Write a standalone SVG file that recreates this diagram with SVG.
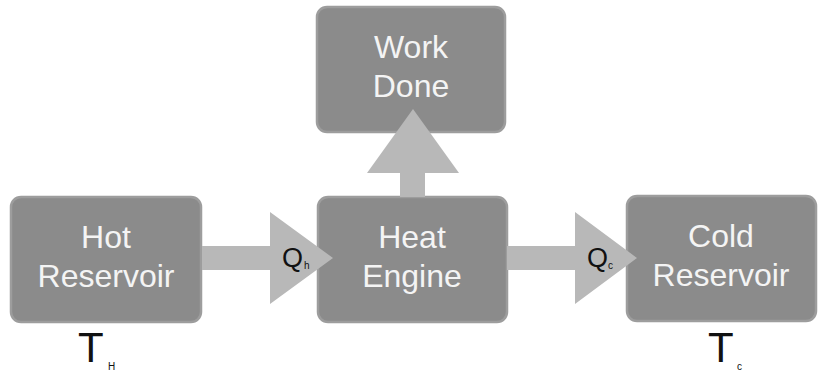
<svg xmlns="http://www.w3.org/2000/svg" width="818" height="371" viewBox="0 0 818 371">
<style>
.box{fill:#8b8b8b;stroke:#9d9d9d;stroke-width:2.5}
.lbl{font-family:"Liberation Sans",Arial,sans-serif;font-size:32px;fill:#f4f4f4;text-anchor:middle}
.arr{fill:#b8b8b8}
.q{font-family:"Liberation Sans",Arial,sans-serif;font-size:27px;fill:#111111}
.t{font-family:"Liberation Sans",Arial,sans-serif;font-size:42px;fill:#111111}
.sub{font-family:"Liberation Sans",Arial,sans-serif;font-size:10px;fill:#111111}
</style>
<rect width="818" height="371" fill="#ffffff"/>
<g id="hot-reservoir">
<rect class="box" x="11" y="197" width="190" height="125" rx="10"/>
<text class="lbl" x="106" y="248">Hot</text>
<text class="lbl" x="106" y="287">Reservoir</text>
</g>
<g id="heat-engine">
<rect class="box" x="318" y="197" width="189" height="125" rx="10"/>
<text class="lbl" x="412" y="248">Heat</text>
<text class="lbl" x="412" y="287">Engine</text>
</g>
<g id="cold-reservoir">
<rect class="box" x="627" y="196" width="189" height="125" rx="10"/>
<text class="lbl" x="721" y="247">Cold</text>
<text class="lbl" x="721" y="286">Reservoir</text>
</g>
<g id="work-done">
<rect class="box" x="317" y="7" width="188" height="125" rx="10"/>
<text class="lbl" x="411" y="58">Work</text>
<text class="lbl" x="411" y="97">Done</text>
</g>
<g id="connectors">
<polygon class="arr" points="202,246 270,246 270,212 333,258 270,304 270,270 202,270"/>
<polygon class="arr" points="507,246 575,246 575,212 637,258 575,304 575,270 507,270"/>
<polygon class="arr" points="400,197 400,173 367,173 413,109 459,173 425,173 425,197"/>
<text class="q" x="282" y="267">Q</text>
<text class="sub" x="304" y="269">h</text>
<text class="q" x="587" y="267">Q</text>
<text class="sub" x="608" y="269">c</text>
</g>
<g id="labels">
<text class="t" x="78" y="362">T</text>
<text class="sub" x="108" y="370">H</text>
<text class="t" x="708" y="362">T</text>
<text class="sub" x="737" y="370">c</text>
</g>
</svg>
